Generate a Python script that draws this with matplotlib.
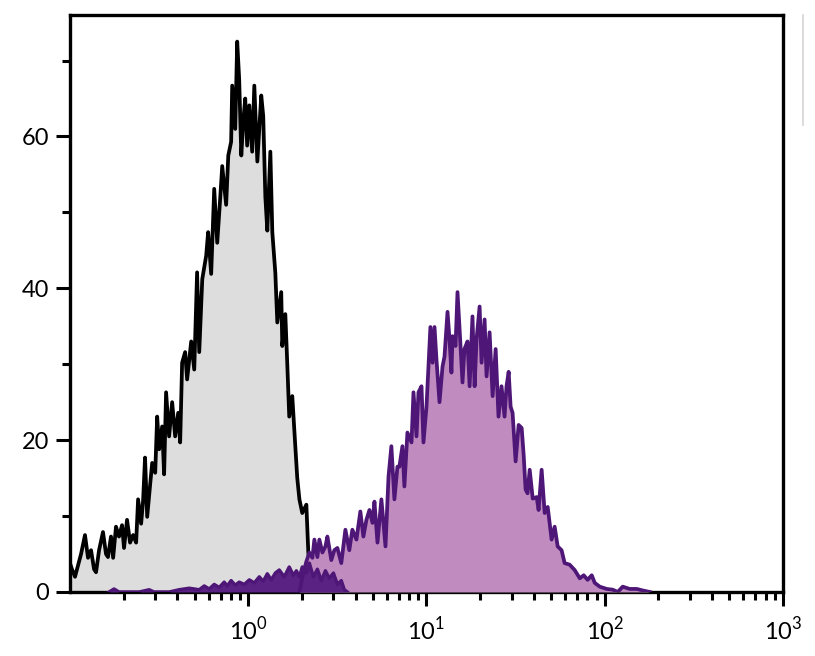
import matplotlib
matplotlib.use("Agg")
import matplotlib.pyplot as plt
import numpy as np
from matplotlib.lines import Line2D
from matplotlib.ticker import LogLocator, MultipleLocator, NullFormatter

plt.rcParams["font.family"] = ["Lato", "DejaVu Sans"]
plt.rcParams["mathtext.fontset"] = "custom"
plt.rcParams["mathtext.rm"] = "Lato"

# fluorescence intensity, as log10 positions
gray_log = [-1.006, -0.989, -0.972, -0.955, -0.938, -0.916, -0.899, -0.882, -0.865, -0.854,
            -0.837, -0.815, -0.798, -0.787, -0.770, -0.758, -0.742, -0.725, -0.708, -0.697,
            -0.680, -0.663, -0.646, -0.629, -0.618, -0.601, -0.590, -0.579, -0.567, -0.551,
            -0.539, -0.522, -0.511, -0.500, -0.483, -0.472, -0.461, -0.444, -0.427, -0.410,
            -0.393, -0.382, -0.371, -0.354, -0.343, -0.320, -0.303, -0.287, -0.275, -0.258,
            -0.236, -0.225, -0.208, -0.191, -0.174, -0.157, -0.146, -0.124, -0.112, -0.096,
            -0.090, -0.073, -0.062, -0.051, -0.039, -0.028, -0.017, -0.006, 0.006, 0.022,
            0.034, 0.051, 0.073, 0.084, 0.096, 0.107, 0.124, 0.135, 0.152, 0.163,
            0.185, 0.191, 0.208, 0.219, 0.230, 0.247, 0.264, 0.275, 0.287, 0.303,
            0.326, 0.337, 0.348, 0.360, 0.376, 0.399]
gray_counts = [4.2, 3.0, 2.0, 3.5, 5.0, 7.5, 4.5, 5.5, 3.0, 2.6,
               5.5, 7.9, 5.0, 4.6, 7.3, 4.5, 8.6, 7.3, 8.8, 5.8,
               9.5, 6.5, 7.5, 6.5, 12.2, 9.0, 12.0, 17.7, 9.9, 14.0,
               17.0, 15.7, 23.1, 18.8, 21.8, 15.5, 26.3, 20.5, 25.0, 20.5,
               23.6, 19.7, 30.2, 31.6, 28.0, 33.0, 29.3, 42.1, 31.6, 41.2,
               44.3, 47.4, 41.9, 53.1, 46.0, 52.0, 56.1, 51.0, 57.5, 59.3,
               66.7, 61.0, 72.5, 67.6, 57.5, 62.0, 65.0, 58.8, 64.1, 58.0,
               66.7, 56.7, 65.4, 62.7, 52.0, 47.6, 58.0, 47.4, 42.0, 35.5,
               39.5, 32.4, 36.6, 30.0, 23.1, 25.8, 19.2, 15.0, 12.2, 10.4,
               11.5, 5.2, 3.0, 1.0, 0.3, 0.0]

# low tail of the stained sample (dark band near the baseline)
tail_log = [-0.781, -0.753, -0.725, -0.612, -0.556, -0.528, -0.444, -0.388, -0.331, -0.275,
            -0.247, -0.219, -0.191, -0.163, -0.135, -0.118, -0.096, -0.073, -0.051, -0.022,
            0.006, 0.034, 0.062, 0.084, 0.107, 0.129, 0.152, 0.174, 0.202, 0.230,
            0.253, 0.270, 0.287, 0.303, 0.326, 0.343, 0.365, 0.388, 0.410, 0.433,
            0.455, 0.478, 0.500, 0.522, 0.539, 0.556]
tail_counts = [0, 0.4, 0, 0, 0.3, 0, 0, 0.3, 0.5, 0.3,
               0.8, 0.4, 1.0, 0.6, 1.3, 0.8, 1.5, 0.9, 1.3, 1.0,
               1.6, 1.2, 2.0, 1.4, 2.4, 1.6, 2.5, 2.9, 2.0, 3.3,
               2.2, 2.8, 2.0, 3.3, 2.5, 3.8, 2.0, 3.0, 1.5, 2.8,
               1.8, 2.5, 1.0, 1.5, 0.3, 0]

purple_log = [0.287, 0.309, 0.326, 0.343, 0.360, 0.371, 0.388, 0.399, 0.416, 0.433,
              0.444, 0.466, 0.483, 0.500, 0.522, 0.545, 0.567, 0.584, 0.607, 0.629,
              0.646, 0.663, 0.680, 0.697, 0.708, 0.725, 0.747, 0.770, 0.787, 0.803,
              0.820, 0.837, 0.848, 0.865, 0.876, 0.893, 0.916, 0.927, 0.944, 0.955,
              0.972, 0.983, 1.000, 1.022, 1.034, 1.045, 1.056, 1.073, 1.090, 1.101,
              1.118, 1.129, 1.140, 1.146, 1.163, 1.174, 1.191, 1.202, 1.213, 1.230,
              1.242, 1.258, 1.270, 1.281, 1.298, 1.309, 1.326, 1.337, 1.354, 1.371,
              1.388, 1.404, 1.421, 1.438, 1.449, 1.461, 1.472, 1.483, 1.500, 1.517,
              1.534, 1.545, 1.556, 1.567, 1.579, 1.596, 1.618, 1.629, 1.646, 1.663,
              1.680, 1.702, 1.719, 1.736, 1.758, 1.775, 1.803, 1.831, 1.860, 1.882,
              1.904, 1.927, 1.944, 1.972, 2.011, 2.045, 2.073, 2.101, 2.140, 2.180,
              2.213, 2.253]
purple_counts = [0, 2.5, 4.0, 5.2, 4.5, 6.9, 4.6, 6.9, 5.2, 6.0,
                 7.3, 4.2, 5.5, 5.8, 3.8, 8.2, 5.5, 8.2, 6.9, 10.6,
                 7.3, 9.5, 10.8, 9.1, 11.9, 6.5, 12.2, 6.0, 15.2, 19.2,
                 12.2, 16.5, 16.5, 19.2, 13.9, 21.0, 19.7, 26.3, 20.5, 26.3,
                 27.1, 19.7, 24.4, 34.9, 30.2, 34.9, 30.6, 25.0, 29.7, 31.0,
                 36.9, 33.3, 28.9, 33.7, 32.4, 39.5, 32.4, 27.6, 32.0, 33.0,
                 27.1, 36.3, 27.1, 33.3, 37.6, 30.2, 35.9, 28.4, 34.2, 25.8,
                 32.0, 23.1, 27.1, 23.1, 27.1, 29.0, 24.4, 23.6, 17.2, 22.0,
                 21.6, 18.1, 13.5, 13.0, 16.1, 12.3, 12.5, 10.8, 16.1, 10.4,
                 11.2, 6.9, 8.6, 6.0, 5.5, 3.8, 3.6, 2.9, 1.8, 2.2,
                 1.6, 2.2, 1.2, 0.7, 0.4, 0.3, 0, 0.7, 0.4, 0.4,
                 0.2, 0]

x_ticks = [1, 10, 100, 1000]
x_ticklabels = ["$10^{0}$", "$10^{1}$", "$10^{2}$", "$10^{3}$"]
y_ticks = [0, 20, 40, 60]

GRAY_FILL = "#dddddd"
PURPLE_FILL = "#c08cc0"
PURPLE_LINE = "#4e1677"
TAIL_FILL = "#5a2383"

fig = plt.figure(figsize=(8.15, 6.56), dpi=100)
ax = fig.add_axes([0.0859, 0.0976, 0.8748, 0.8795])

gx = 10 ** np.array(gray_log)
tx = 10 ** np.array(tail_log)
px = 10 ** np.array(purple_log)

ax.fill_between(gx, gray_counts, 0, color=GRAY_FILL, lw=0, zorder=1)
ax.plot(gx, gray_counts, color="black", lw=2.7, zorder=2, solid_joinstyle="round")
ax.fill_between(px, purple_counts, 0, color=PURPLE_FILL, lw=0, zorder=3)
ax.fill_between(tx, tail_counts, 0, color=TAIL_FILL, lw=0, zorder=4)
ax.plot(tx, tail_counts, color=PURPLE_LINE, lw=2.4, zorder=5)
ax.plot(px, purple_counts, color=PURPLE_LINE, lw=2.7, zorder=5, solid_joinstyle="round")

ax.set_xscale("log")
ax.set_xlim(0.1, 1000)
ax.set_ylim(0, 76)
ax.set_xticks(x_ticks)
ax.set_xticklabels(x_ticklabels)
ax.xaxis.set_minor_locator(LogLocator(base=10, subs=np.arange(2, 10)))
ax.xaxis.set_minor_formatter(NullFormatter())
ax.set_yticks(y_ticks)
ax.yaxis.set_minor_locator(MultipleLocator(10))

for side in ["left", "bottom", "right", "top"]:
    ax.spines[side].set_linewidth(2.4)
ax.tick_params(axis="both", which="major", length=10, width=2.2, labelsize=17, pad=5)
ax.tick_params(axis="both", which="minor", length=6, width=2.2)
ax.tick_params(axis="x", which="major", pad=7)

# faint legend remnant at the right edge
fig.add_artist(Line2D([803 / 815, 803 / 815], [1 - 15 / 656, 1 - 125 / 656],
                      color="#d4d4d4", lw=1.2))

fig.savefig("out.png", dpi=100)
